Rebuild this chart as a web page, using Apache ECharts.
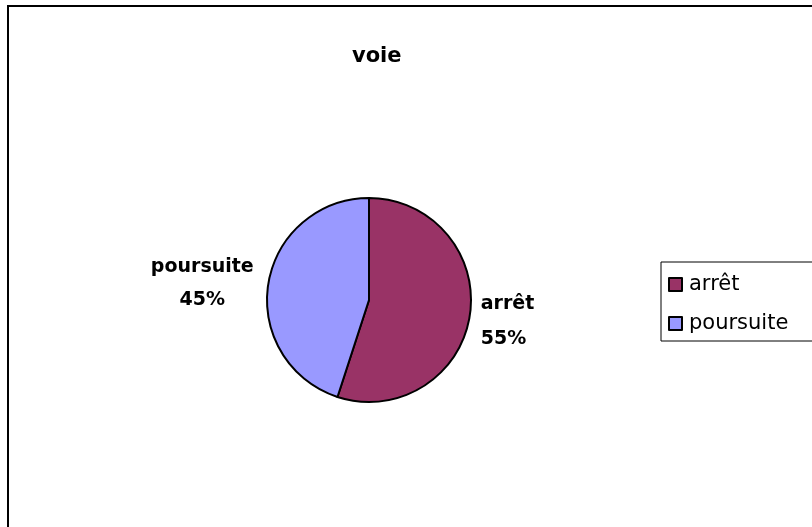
<!DOCTYPE html>
<html>
<head>
<meta charset="utf-8">
<script src="https://cdn.jsdelivr.net/npm/echarts@6/dist/echarts.min.js"></script>
<style>html,body{margin:0;padding:0;background:#fff}#c{width:812px;height:527px}</style>
</head>
<body>
<div id="c"></div>
<script>
const titleText = 'voie';
const categories = ['arrêt', 'poursuite'];
const values = [55, 45];
const colors = ['#993366', '#9999FF'];

const FONT = '"DejaVu Sans", sans-serif';
const chart = echarts.init(document.getElementById('c'), null, {renderer: 'canvas'});
chart.setOption({
  animation: false,
  backgroundColor: '#fff',
  title: {
    text: titleText, left: 352, top: 46, padding: 0,
    textStyle: {fontFamily: FONT, fontSize: 21, fontWeight: 'bold', color: '#000'}
  },
  graphic: [
    {type: 'rect', shape: {x: 8, y: 6, width: 900, height: 700}, style: {fill: 'none', stroke: '#000', lineWidth: 2}, z: 0, silent: true},
    {type: 'rect', shape: {x: 661, y: 262, width: 200, height: 79}, style: {fill: '#fff', stroke: '#000', lineWidth: 1}, z: 1, silent: true}
  ],
  legend: {
    orient: 'vertical', left: 668, top: 274, padding: 0,
    icon: 'rect', itemWidth: 13, itemHeight: 13, itemGap: 18,
    itemStyle: {borderColor: '#000', borderWidth: 2},
    textStyle: {fontFamily: FONT, fontSize: 21, color: '#000', padding: [0, 0, 0, 2]},
    data: categories, z: 5
  },
  series: [{
    type: 'pie',
    center: [369, 300], radius: 102,
    startAngle: 90, clockwise: true,
    data: categories.map((c, i) => ({
      name: c, value: values[i], itemStyle: {color: colors[i]},
      label: i === 0 ? {padding: [10, 0, 0, 0]} : {}
    })),
    itemStyle: {borderColor: '#000', borderWidth: 2},
    label: {
      show: true, position: 'outside',
      formatter: p => {
        const s = p.dataIndex === 1 ? 'c' : 'l';
        return '{' + s + '|' + p.name + '}\n{' + s + '|' + Math.round(p.percent) + '%}';
      },
      rich: {
        l: {fontFamily: FONT, fontSize: 19, fontWeight: 'bold', color: '#000', align: 'left', lineHeight: 35},
        c: {fontFamily: FONT, fontSize: 19, fontWeight: 'bold', color: '#000', width: 110, align: 'center', lineHeight: 33}
      }
    },
    labelLine: {show: false, length: 3, length2: 3}
  }]
});
</script>
</body>
</html>
